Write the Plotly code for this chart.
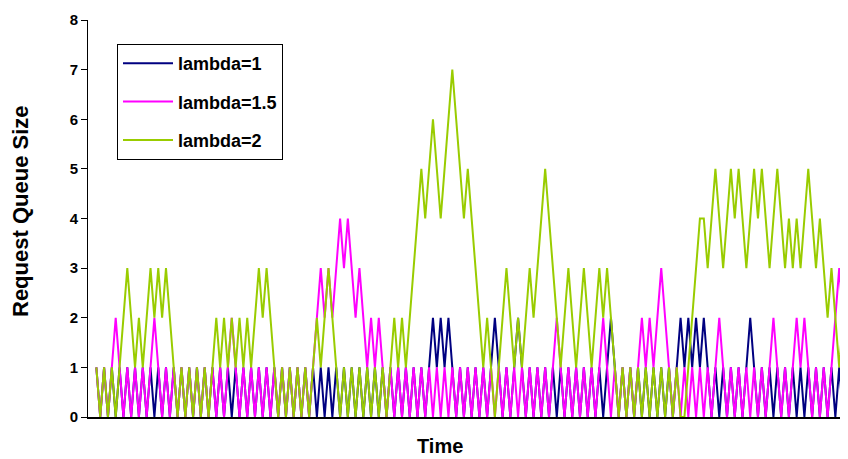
import plotly.graph_objects as go

# ---- data ----
time_steps = list(range(196))

queue_lambda_1 = [
    1,0,1,0,1,0,1,0,1,0, 1,0,1,0,1,0,1,0,1,0, 1,0,1,0,1,0,1,0,1,0,
    1,0,1,0,1,0,1,0,1,0, 1,0,1,0,1,0,1,0,1,0, 1,0,1,0,1,0,1,0,1,0,
    1,0,1,0,1,0,1,0,1,0, 1,0,1,0,1,0,1,0,1,0, 1,0,1,0,1,0,1,2,1,2,
    1,2,1,0,1,0,1,0,1,0, 1,0,1,2,1,0,1,0,1,2, 1,0,1,0,1,0,1,0,1,0,
    1,0,1,0,1,0,1,0,1,0, 1,0,1,2,1,0,1,0,1,0, 1,0,1,0,1,0,1,0,1,0,
    1,2,1,2,1,2,1,2,1,0, 1,0,1,0,1,0,1,0,1,2, 1,0,1,0,1,0,1,0,1,0,
    1,0,1,0,1,0,1,0,1,0, 1,0,1,0,1,0,
]

queue_lambda_15 = [
    1,0,1,0,1,2,1,0,1,0, 1,0,1,0,1,2,1,0,1,0, 1,0,1,0,1,0,1,0,1,0,
    1,0,1,0,1,2,1,0,1,0, 1,0,1,0,1,0,1,0,1,0, 1,0,1,0,1,0,1,2,3,2,
    3,2,3,4,3,4,3,2,3,2, 1,2,1,2,1,0,1,0,1,0, 1,0,1,0,1,0,1,0,1,0,
    1,0,1,0,1,0,1,0,1,0, 1,0,1,0,1,0,1,0,1,0, 1,0,1,0,1,0,1,0,1,2,
    1,0,1,0,1,0,1,0,1,0, 1,2,1,0,1,0,1,0,1,0, 1,2,1,2,1,2,3,2,1,0,
    1,0,1,0,1,0,1,0,1,0, 1,2,1,0,1,0,1,0,1,0, 1,0,1,0,1,2,1,0,1,0,
    1,2,1,2,1,0,1,0,1,0, 1,2,3,2,3,2,
]

queue_lambda_2 = [
    1,0,1,0,1,0,1,2,3,2, 1,2,1,2,3,2,3,2,3,2, 1,0,1,0,1,0,1,0,1,0,
    1,2,1,2,1,2,1,2,1,2, 1,2,3,2,3,2,1,0,1,0, 1,0,1,0,1,0,1,2,1,2,
    3,2,1,0,1,0,1,0,1,0, 1,0,1,0,1,0,1,2,1,2, 1,2,3,4,5,4,5,6,5,4,
    5,6,7,6,5,4,5,4,3,2, 1,2,1,0,1,2,3,2,1,2, 1,2,3,2,3,4,5,4,3,2,
    1,2,3,2,1,2,3,2,1,2, 3,2,3,2,1,0,1,0,1,0, 1,0,1,0,1,0,1,0,1,0,
    1,0,0,1,2,3,4,4,3,4, 5,4,3,4,5,4,5,4,3,4, 5,4,5,4,3,4,5,4,3,4,
    3,4,3,4,5,4,3,4,3,2, 3,2,1,2,1,2,
]

series_names = ["lambda=1", "lambda=1.5", "lambda=2"]
series_colors = ["#000080", "#FF00FF", "#99CC00"]
y_tick_values = [0, 1, 2, 3, 4, 5, 6, 7, 8]
x_title = "Time"
y_title = "Request Queue Size"

FONT = "Liberation Sans, Arial, sans-serif"

# the page has an 8px body margin, so the figure is 8px smaller than the window
OFF = 8
PL, PT, PR, PB = 88, 20, 848, 417          # plot area in window pixels
W, H = 848 - OFF, 459 - OFF
PW, PH = PR - PL, PB - PT

fig = go.Figure()
for k, (name, vals, col) in enumerate(zip(series_names,
                                          [queue_lambda_1, queue_lambda_15, queue_lambda_2],
                                          series_colors)):
    fig.add_trace(go.Scatter(
        x=time_steps, y=vals, mode="lines", name="<b>" + name + "</b>",
        line=dict(color=col, width=2), legendgroup="g%d" % k,
    ))

fig.update_layout(
    width=W, height=H,
    margin=dict(l=PL - OFF, r=W - (PR - OFF), t=PT - OFF, b=H - (PB - OFF), autoexpand=False),
    paper_bgcolor="white", plot_bgcolor="white",
    font=dict(family=FONT, color="black"),
    showlegend=True,
    legend=dict(
        x=(117 - PL) / PW, y=(PB - 44) / PH, xanchor="left", yanchor="top",
        bordercolor="black", borderwidth=1, bgcolor="white",
        font=dict(size=18, family=FONT, color="black"),
        tracegroupgap=12, traceorder="grouped",
        itemwidth=50,
    ),
    xaxis=dict(
        range=[-2.158, 194.27], showgrid=False, zeroline=False, automargin=False,
        showticklabels=False, ticks="", showline=True, linecolor="black", linewidth=2,
    ),
    yaxis=dict(
        range=[0, 8], tickvals=y_tick_values, showgrid=False, zeroline=False,
        automargin=False,
        showline=True, linecolor="black", linewidth=1,
        ticks="outside", ticklen=6, tickcolor="black",
        tickfont=dict(size=15, family=FONT, weight="bold"),
    ),
    annotations=[
        dict(text="<b>" + x_title + "</b>", xref="paper", yref="paper",
             x=(440 - PL) / PW, y=-(446 - PB) / PH, xanchor="center", yanchor="middle",
             showarrow=False, font=dict(size=20, family=FONT, color="black")),
        dict(text="<b>" + y_title + "</b>", xref="paper", yref="paper",
             x=-(PL - 21) / PW, y=(PB - 211) / PH, xanchor="center", yanchor="middle",
             textangle=-90, showarrow=False, font=dict(size=22, family=FONT, color="black")),
    ],
)

fig.write_html("out.html")
